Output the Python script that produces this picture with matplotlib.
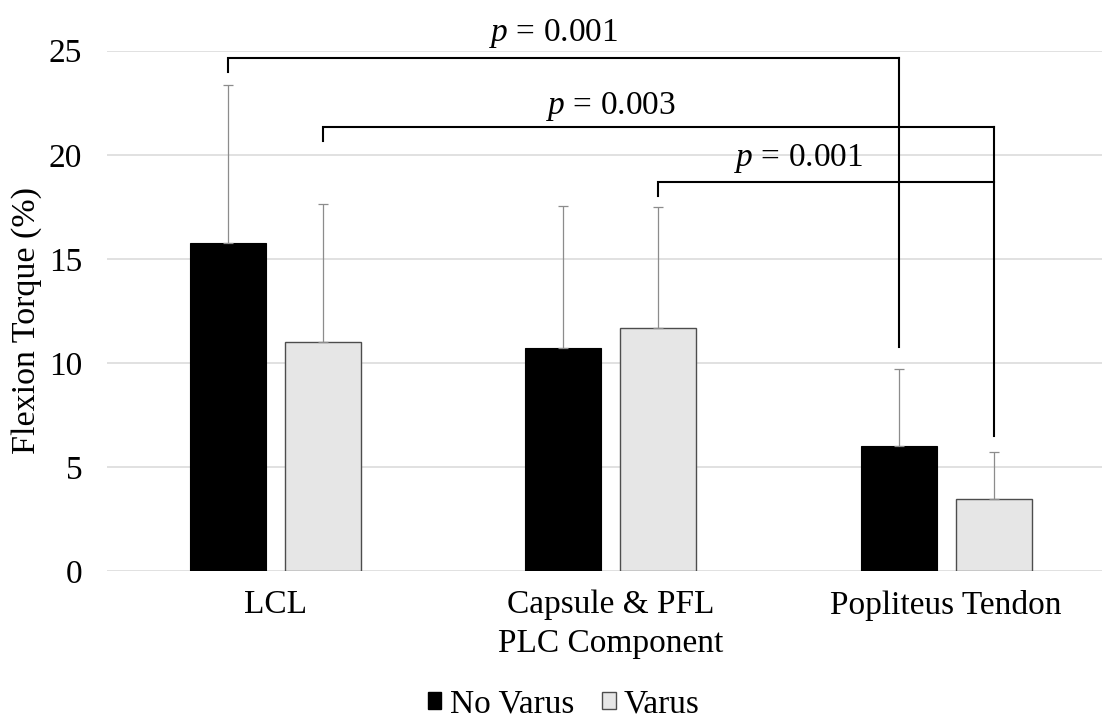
import matplotlib

matplotlib.use("Agg")
import matplotlib.pyplot as plt
import numpy as np
from matplotlib.patches import Patch

plt.rcParams["font.family"] = ["Liberation Serif", "DejaVu Serif"]
plt.rcParams["mathtext.fontset"] = "custom"
plt.rcParams["mathtext.rm"] = "Liberation Serif"
plt.rcParams["mathtext.it"] = "Liberation Serif:italic"

categories = ["LCL", "Capsule & PFL\nPLC Component", "Popliteus Tendon"]
no_varus = [15.75, 10.72, 6.01]
no_varus_sd = [7.6, 6.8, 3.7]
varus = [10.98, 11.67, 3.46]
varus_sd = [6.65, 5.82, 2.28]
series_labels = ["No Varus", "Varus"]

# significance brackets, each bar given as (category index, series index)
bracket_left = [(0, 0), (0, 1), (1, 1)]
bracket_right = [(2, 0), (2, 1), (2, 1)]
bracket_top = [24.65, 21.35, 18.71]
bracket_left_drop = [24.0, 20.68, 18.04]
bracket_right_drop = [10.75, 6.51, None]   # last one joins the bracket above
p_values = ["0.001", "0.003", "0.001"]
p_label_x = [0.83, 1.0, 1.56]
p_label_y = [25.48, 21.96, 19.44]

FS = 24
BAR_W = 0.2265
OFFSET = 0.1416

fig = plt.figure(figsize=(11.02, 7.19), dpi=100)
ax = fig.add_axes([107.3 / 1102, 1 - 571 / 719, 1006.5 / 1102, 520.3 / 719])

x = np.arange(len(categories))
err_kw = dict(ecolor="#8c8c8c", elinewidth=0.9, capsize=3.6, capthick=0.9)
ax.bar(x - OFFSET, no_varus, BAR_W, yerr=[np.zeros(3), no_varus_sd],
       color="black", edgecolor="black", linewidth=0.8, error_kw=err_kw, zorder=3)
ax.bar(x + OFFSET, varus, BAR_W, yerr=[np.zeros(3), varus_sd],
       color="#e6e6e6", edgecolor="#4d4d4d", linewidth=1.0, error_kw=err_kw, zorder=3)

ax.set_xlim(-0.5, 2.5)
ax.set_ylim(0, 25)
ax.set_yticks([0, 5, 10, 15, 20, 25])
ax.set_xticks(x)
ax.set_xticklabels(categories, fontsize=FS)
for lbl in ax.get_xticklabels():
    lbl.set_linespacing(1.35)
ax.tick_params(axis="y", length=0, pad=18, labelsize=FS)
ax.tick_params(axis="x", length=0, pad=13.5)
ax.yaxis.grid(True, color="#d9d9d9", linewidth=1.1, zorder=0)
ax.set_axisbelow(True)
for s in ax.spines.values():
    s.set_visible(False)


def bar_x(bar):
    cat, ser = bar
    return cat + (OFFSET if ser else -OFFSET)


for i in range(len(p_values)):
    x0, x1 = bar_x(bracket_left[i]), bar_x(bracket_right[i])
    top = bracket_top[i]
    ax.plot([x0, x0, x1], [bracket_left_drop[i], top, top], color="black", lw=1.5,
            clip_on=False, zorder=4, solid_joinstyle="miter")
    if bracket_right_drop[i] is not None:
        ax.plot([x1, x1], [top, bracket_right_drop[i]], color="black", lw=1.5,
                clip_on=False, zorder=4)
    ax.text(p_label_x[i], p_label_y[i], r"$p$ = " + p_values[i], fontsize=FS,
            ha="center", va="baseline", clip_on=False)

fig.text(27 / 1102, 1 - 320 / 719, "Flexion Torque (%)", rotation=90,
         ha="center", va="center", fontsize=24.5)

handles = [Patch(facecolor="black", edgecolor="black"),
           Patch(facecolor="#e6e6e6", edgecolor="#4d4d4d")]
fig.legend(handles, series_labels, loc="center", bbox_to_anchor=(564 / 1102, 1 - 704 / 719),
           ncol=2, frameon=False, fontsize=FS, handlelength=0.4, handleheight=0.4,
           handletextpad=0.25, columnspacing=0.85, borderaxespad=0, borderpad=0)

fig.savefig("out.png", dpi=100)
